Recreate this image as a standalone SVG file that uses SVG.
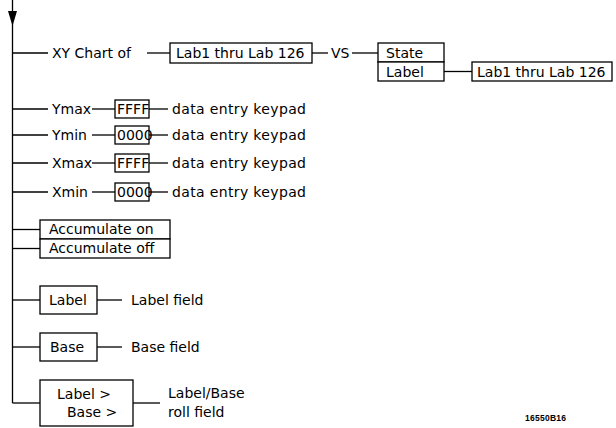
<svg xmlns="http://www.w3.org/2000/svg" width="616" height="428" viewBox="0 0 616 428">
<style>
  .ln{stroke:#000;stroke-width:1.3;fill:none}
  .bx{stroke:#000;stroke-width:1.3;fill:#fff}
  text{font-family:"DejaVu Sans","Liberation Sans",sans-serif;font-size:14px;fill:#000}
  .code{font-family:"Liberation Sans",sans-serif;font-size:8.5px;font-weight:bold}
</style>
<g id="connectors">
  <line class="ln" x1="12.5" y1="0" x2="12.5" y2="403"/>
  <polygon points="8,11 17,11 12.5,26" fill="#000"/>
  <line class="ln" x1="12.5" y1="53" x2="48" y2="53"/>
  <line class="ln" x1="147" y1="53" x2="170" y2="53"/>
  <line class="ln" x1="312" y1="53" x2="328" y2="53"/>
  <line class="ln" x1="352" y1="53" x2="378" y2="53"/>
  <line class="ln" x1="444" y1="71.5" x2="472" y2="71.5"/>
  <line class="ln" x1="12.5" y1="109" x2="48" y2="109"/>
  <line class="ln" x1="92" y1="109" x2="115" y2="109"/>
  <line class="ln" x1="149" y1="109" x2="168" y2="109"/>
  <line class="ln" x1="12.5" y1="135" x2="48" y2="135"/>
  <line class="ln" x1="92" y1="135" x2="115" y2="135"/>
  <line class="ln" x1="149" y1="135" x2="168" y2="135"/>
  <line class="ln" x1="12.5" y1="163" x2="48" y2="163"/>
  <line class="ln" x1="92" y1="163" x2="115" y2="163"/>
  <line class="ln" x1="149" y1="163" x2="168" y2="163"/>
  <line class="ln" x1="12.5" y1="192" x2="48" y2="192"/>
  <line class="ln" x1="92" y1="192" x2="115" y2="192"/>
  <line class="ln" x1="149" y1="192" x2="168" y2="192"/>
  <line class="ln" x1="12.5" y1="229.5" x2="40" y2="229.5"/>
  <line class="ln" x1="12.5" y1="248.5" x2="40" y2="248.5"/>
  <line class="ln" x1="12.5" y1="300" x2="40" y2="300"/>
  <line class="ln" x1="97" y1="300" x2="122" y2="300"/>
  <line class="ln" x1="12.5" y1="347" x2="40" y2="347"/>
  <line class="ln" x1="97" y1="347" x2="122" y2="347"/>
  <line class="ln" x1="12.5" y1="403" x2="40" y2="403"/>
  <line class="ln" x1="133" y1="403" x2="160" y2="403"/>
</g>
<g id="xychart"><text x="52" y="58">XY Chart of</text></g>
<g id="lab-range-1"><rect class="bx" x="170" y="43" width="142" height="20"/><text x="176" y="58">Lab1 thru Lab 126</text></g>
<g id="vs"><text x="331" y="58">VS</text></g>
<g id="state-label">
  <rect class="bx" x="378" y="43" width="66" height="19"/>
  <rect class="bx" x="378" y="62" width="66" height="19"/>
  <text x="386" y="57.5">State</text>
  <text x="386" y="76.5">Label</text>
</g>
<g id="lab-range-2"><rect class="bx" x="472" y="62" width="140" height="19"/><text x="477" y="76.5">Lab1 thru Lab 126</text></g>
<g id="ymax"><text x="52" y="114">Ymax</text><rect class="bx" x="115" y="100" width="34" height="18"/><text x="117" y="114">FFFF</text><text x="172" y="114" textLength="134">data entry keypad</text></g>
<g id="ymin"><text x="52" y="140">Ymin</text><rect class="bx" x="115" y="126" width="34" height="18"/><text x="117" y="140">0000</text><text x="172" y="140" textLength="134">data entry keypad</text></g>
<g id="xmax"><text x="52" y="168">Xmax</text><rect class="bx" x="115" y="154" width="34" height="18"/><text x="117" y="168">FFFF</text><text x="172" y="168" textLength="134">data entry keypad</text></g>
<g id="xmin"><text x="52" y="197">Xmin</text><rect class="bx" x="115" y="183" width="34" height="18"/><text x="117" y="197">0000</text><text x="172" y="197" textLength="134">data entry keypad</text></g>
<g id="accumulate">
  <rect class="bx" x="40" y="220" width="130" height="19"/>
  <rect class="bx" x="40" y="239" width="130" height="19"/>
  <text x="49" y="234">Accumulate on</text>
  <text x="49" y="253">Accumulate off</text>
</g>
<g id="label"><rect class="bx" x="40" y="286" width="57" height="28"/><text x="49" y="305">Label</text><text x="131" y="305">Label field</text></g>
<g id="base"><rect class="bx" x="40" y="333" width="57" height="28"/><text x="50" y="352">Base</text><text x="131" y="352">Base field</text></g>
<g id="roll">
  <rect class="bx" x="40" y="380" width="93" height="46"/>
  <text x="57" y="399">Label &gt;</text>
  <text x="67" y="417">Base &gt;</text>
  <text x="168" y="398">Label/Base</text>
  <text x="168" y="417">roll field</text>
</g>
<text class="code" x="525" y="421" textLength="41">16550B16</text>
</svg>
